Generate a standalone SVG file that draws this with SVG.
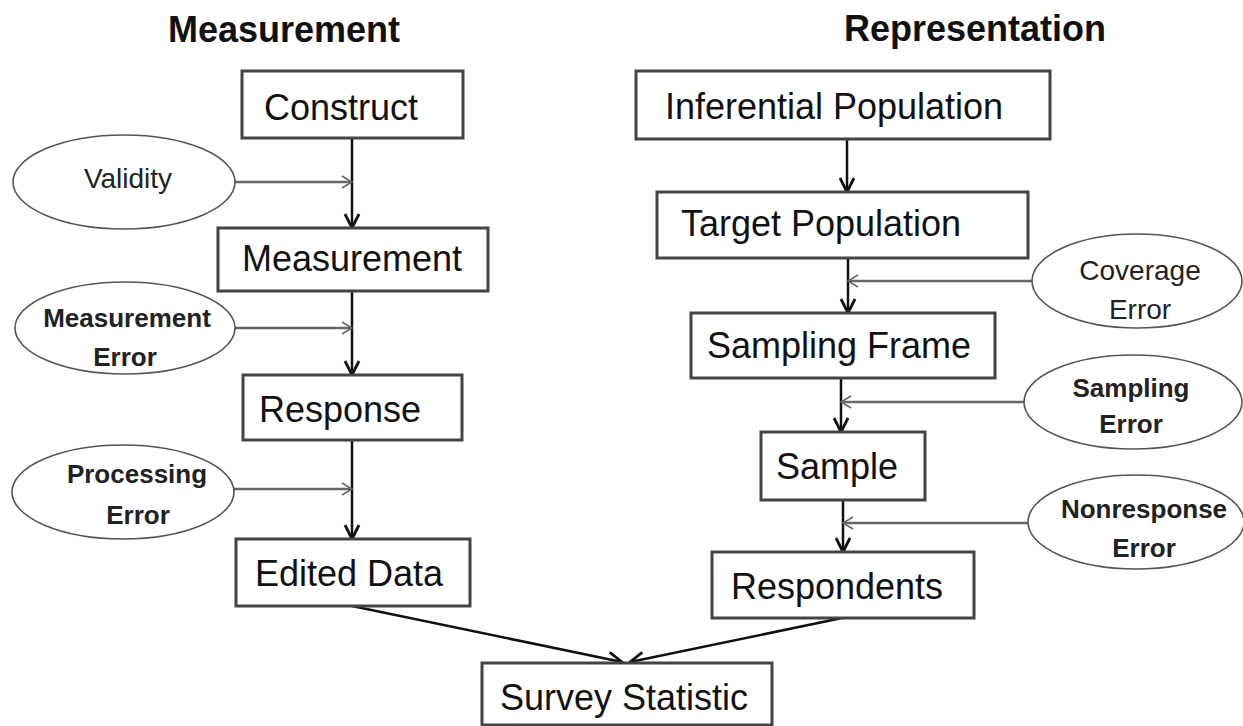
<svg xmlns="http://www.w3.org/2000/svg" width="1243" height="726" viewBox="0 0 1243 726">
<defs>
<style>
.box{fill:#fff;stroke:#444;stroke-width:3}
.ell{fill:#fff;stroke:#555;stroke-width:1.6}
.bt{font-family:"Liberation Sans",Arial,sans-serif;font-size:36px;fill:#111;text-anchor:middle}
.title{font-family:"Liberation Sans",Arial,sans-serif;font-size:36px;font-weight:bold;fill:#111;text-anchor:middle}
.eb{font-family:"Liberation Sans",Arial,sans-serif;font-size:26px;font-weight:bold;fill:#222;text-anchor:middle}
.er{font-family:"Liberation Sans",Arial,sans-serif;font-size:28px;fill:#222;text-anchor:middle}
.main{stroke:#111;stroke-width:2.5;fill:none;marker-end:url(#mainArrow)}
.err{stroke:#666;stroke-width:2.5;fill:none;marker-end:url(#errArrow)}
</style>
<marker id="mainArrow" markerUnits="userSpaceOnUse" markerWidth="18" markerHeight="18" refX="15" refY="8" orient="auto" viewBox="0 0 18 16">
<path d="M1,1 L15,8 L1,15" fill="none" stroke="#111" stroke-width="2.8"/>
</marker>
<marker id="errArrow" markerUnits="userSpaceOnUse" markerWidth="14" markerHeight="16" refX="11" refY="7" orient="auto" viewBox="0 0 14 14">
<path d="M1,1 L11,7 L1,13" fill="none" stroke="#666" stroke-width="1.5"/>
</marker>
</defs>
<rect width="1243" height="726" fill="#fff"/>

<text class="title" x="284" y="42">Measurement</text>
<text class="title" x="975" y="41">Representation</text>

<g id="connectors">
<path class="main" d="M352,138 L352,228"/>
<path class="main" d="M352,291 L352,375"/>
<path class="main" d="M352,440 L352,539"/>
<path class="main" d="M847,139 L847,192"/>
<path class="main" d="M848,258 L848,313"/>
<path class="main" d="M841,378 L841,432"/>
<path class="main" d="M843,500 L843,552"/>
<path class="main" d="M352,606 L622,662"/>
<path class="main" d="M842,618 L630,662"/>
<path class="err" d="M235,182 L352,182"/>
<path class="err" d="M235,328 L352,328"/>
<path class="err" d="M233,489 L352,489"/>
<path class="err" d="M1032,281 L848,281"/>
<path class="err" d="M1024,402 L841,402"/>
<path class="err" d="M1028,523 L843,523"/>
</g>

<g id="construct"><rect class="box" x="242" y="71" width="221" height="67"/><text class="bt" x="341" y="120">Construct</text></g>
<g id="measurement"><rect class="box" x="218" y="228" width="270" height="63"/><text class="bt" x="352" y="271">Measurement</text></g>
<g id="response"><rect class="box" x="243" y="375" width="219" height="65"/><text class="bt" x="340" y="422">Response</text></g>
<g id="edited-data"><rect class="box" x="236" y="539" width="234" height="67"/><text class="bt" x="349" y="586">Edited Data</text></g>
<g id="survey-statistic"><rect class="box" x="482" y="663" width="290" height="62"/><text class="bt" x="624" y="710">Survey Statistic</text></g>
<g id="inferential-population"><rect class="box" x="636" y="71" width="414" height="68"/><text class="bt" x="834" y="119">Inferential Population</text></g>
<g id="target-population"><rect class="box" x="657" y="192" width="371" height="66"/><text class="bt" x="821" y="236">Target Population</text></g>
<g id="sampling-frame"><rect class="box" x="691" y="313" width="304" height="65"/><text class="bt" x="839" y="358">Sampling Frame</text></g>
<g id="sample"><rect class="box" x="761" y="432" width="164" height="68"/><text class="bt" x="837" y="479">Sample</text></g>
<g id="respondents"><rect class="box" x="712" y="552" width="262" height="66"/><text class="bt" x="837" y="599">Respondents</text></g>

<g id="validity"><ellipse class="ell" cx="124" cy="182" rx="111" ry="47"/><text class="er" x="128" y="188">Validity</text></g>
<g id="measurement-error"><ellipse class="ell" cx="125" cy="328" rx="110" ry="46"/><text class="eb" x="127" y="327">Measurement</text><text class="eb" x="125" y="366">Error</text></g>
<g id="processing-error"><ellipse class="ell" cx="123" cy="492" rx="111" ry="47"/><text class="eb" x="137" y="483">Processing</text><text class="eb" x="138" y="524">Error</text></g>
<g id="coverage-error"><ellipse class="ell" cx="1137" cy="281" rx="105" ry="47"/><text class="er" x="1140" y="280">Coverage</text><text class="er" x="1140" y="319">Error</text></g>
<g id="sampling-error"><ellipse class="ell" cx="1133" cy="402" rx="109" ry="47"/><text class="eb" x="1131" y="397">Sampling</text><text class="eb" x="1131" y="433">Error</text></g>
<g id="nonresponse-error"><ellipse class="ell" cx="1136" cy="522" rx="108" ry="47"/><text class="eb" x="1144" y="518">Nonresponse</text><text class="eb" x="1144" y="557">Error</text></g>
</svg>
